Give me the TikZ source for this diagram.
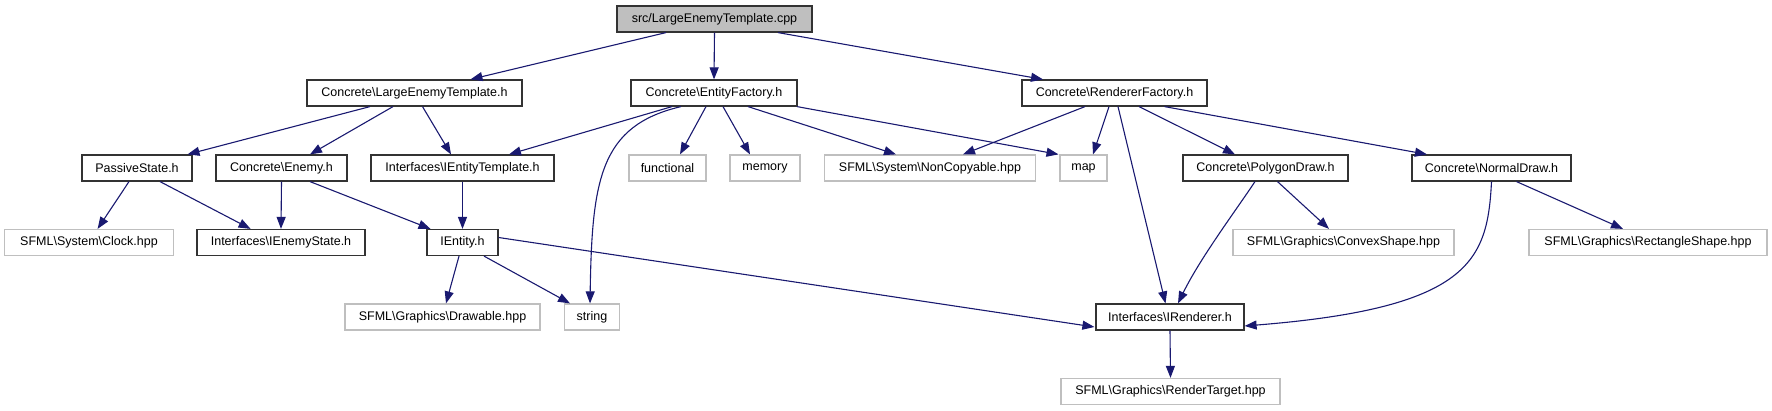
\documentclass[tikz,border=0pt]{standalone}
\usepackage{fontspec}
\setmainfont{Liberation Sans}
\usetikzlibrary{arrows.meta}
\definecolor{edgec}{HTML}{191970}
\definecolor{extc}{HTML}{BFBFBF}
\begin{document}
\begin{tikzpicture}[x=1pt,y=-1pt,
  every node/.style={font=\fontsize{12.5}{14}\selectfont, inner sep=0pt, minimum height=26pt, text=black},
  doc/.style={draw=black!80, line width=1.2pt, fill=white},
  root/.style={draw=black!80, line width=1.2pt, fill=extc},
  ext/.style={draw=extc, line width=1.2pt, fill=white},
  edge/.style={draw=edgec, line width=1.1pt, -{Triangle[length=12pt,width=9pt]}, shorten >=0pt}
]
\useasboundingbox (0,0) rectangle (1772,411);

\node[root, minimum width=195pt] (cpp) at (714.5,19) {src/LargeEnemyTemplate.cpp};
\node[doc, minimum width=215pt] (let) at (414.5,93) {Concrete\textbackslash LargeEnemyTemplate.h};
\node[doc, minimum width=166pt] (ef) at (714,93) {Concrete\textbackslash EntityFactory.h};
\node[doc, minimum width=185pt] (rf) at (1114.5,93) {Concrete\textbackslash RendererFactory.h};
\node[doc, minimum width=110pt] (ps) at (137,168) {PassiveState.h};
\node[doc, minimum width=131pt] (en) at (281.5,168) {Concrete\textbackslash Enemy.h};
\node[doc, minimum width=183pt] (iet) at (462.5,168) {Interfaces\textbackslash IEntityTemplate.h};
\node[ext, minimum width=77pt] (fun) at (667.5,168) {functional};
\node[ext, minimum width=70pt] (mem) at (765,168) {memory};
\node[ext, minimum width=211pt] (nc) at (930,168) {SFML\textbackslash System\textbackslash NonCopyable.hpp};
\node[ext, minimum width=47pt] (map) at (1083.5,168) {map};
\node[doc, minimum width=165pt] (pd) at (1265.5,168) {Concrete\textbackslash PolygonDraw.h};
\node[doc, minimum width=159pt] (nd) at (1491.5,168) {Concrete\textbackslash NormalDraw.h};
\node[ext, minimum width=169pt] (clk) at (89,242.5) {SFML\textbackslash System\textbackslash Clock.hpp};
\node[doc, minimum width=168pt] (ies) at (281,242.5) {Interfaces\textbackslash IEnemyState.h};
\node[doc, minimum width=71pt] (ie) at (462.5,242.5) {IEntity.h};
\node[ext, minimum width=221pt] (cvx) at (1343.5,242.5) {SFML\textbackslash Graphics\textbackslash ConvexShape.hpp};
\node[ext, minimum width=238pt] (rect) at (1648,242.5) {SFML\textbackslash Graphics\textbackslash RectangleShape.hpp};
\node[ext, minimum width=195pt] (drw) at (442.5,317) {SFML\textbackslash Graphics\textbackslash Drawable.hpp};
\node[ext, minimum width=55pt] (str) at (592,317) {string};
\node[doc, minimum width=148pt] (ir) at (1170,317) {Interfaces\textbackslash IRenderer.h};
\node[ext, minimum width=219pt] (rt) at (1170.5,391.5) {SFML\textbackslash Graphics\textbackslash RenderTarget.hpp};

\draw[edge] ([xshift=-48.5]cpp.south) -- ([xshift=56]let.north);
\draw[edge] (cpp.south) -- (ef.north);
\draw[edge] ([xshift=63.5]cpp.south) -- ([xshift=-71.5]rf.north);

\draw[edge] ([xshift=-44.5]let.south) -- ([xshift=50.5]ps.north);
\draw[edge] ([xshift=-21.5]let.south) -- ([xshift=28.5]en.north);
\draw[edge] ([xshift=8]let.south) -- ([xshift=-11.5]iet.north);

\draw[edge] ([xshift=-42]ef.south) -- ([xshift=46.5]iet.north);
\draw[edge] ([xshift=-33]ef.south) .. controls +(-81,19) and +(2,-124) .. ([xshift=-2]str.north);
\draw[edge] ([xshift=-8]ef.south) -- ([xshift=12.5]fun.north);
\draw[edge] ([xshift=9]ef.south) -- ([xshift=-15]mem.north);
\draw[edge] ([xshift=34]ef.south) -- ([xshift=-34]nc.north);
\draw[edge] ([xshift=83]ef.south) -- ([xshift=-25]map.north);

\draw[edge] ([xshift=-29.5]rf.south) -- ([xshift=33]nc.north);
\draw[edge] ([xshift=-5.5]rf.south) -- ([xshift=9.5]map.north);
\draw[edge] ([xshift=3.5]rf.south) -- ([xshift=-4.5]ir.north);
\draw[edge] ([xshift=24.5]rf.south) -- ([xshift=-30.5]pd.north);
\draw[edge] ([xshift=50]rf.south) -- ([xshift=-64.5]nd.north);

\draw[edge] ([xshift=-8]ps.south) -- ([xshift=8.6]clk.north);
\draw[edge] ([xshift=23]ps.south) -- ([xshift=-30.4]ies.north);
\draw[edge] (en.south) -- (ies.north);
\draw[edge] ([xshift=28.5]en.south) -- ([xshift=-32]ie.north);
\draw[edge] (iet.south) -- (ie.north);

\draw[edge] ([xshift=-3.5]ie.south) -- ([xshift=3.5]drw.north);
\draw[edge] ([xshift=21.5]ie.south) -- ([xshift=-22]str.north);
\draw[edge] ([yshift=5]ie.east) -- ([yshift=-10,xshift=-1]ir.west);

\draw[edge] ([xshift=-10.5]pd.south) .. controls +(-20,30) and +(22,-45) .. ([xshift=8]ir.north);
\draw[edge] ([xshift=12]pd.south) -- ([xshift=-14.5]cvx.north);
\draw[edge] (nd.south) .. controls +(-4,79) and +(226,-18) .. ([yshift=-9]ir.east);
\draw[edge] ([xshift=25]nd.south) -- ([xshift=-25]rect.north);

\draw[edge] (ir.south) -- (rt.north);
\end{tikzpicture}
\end{document}
